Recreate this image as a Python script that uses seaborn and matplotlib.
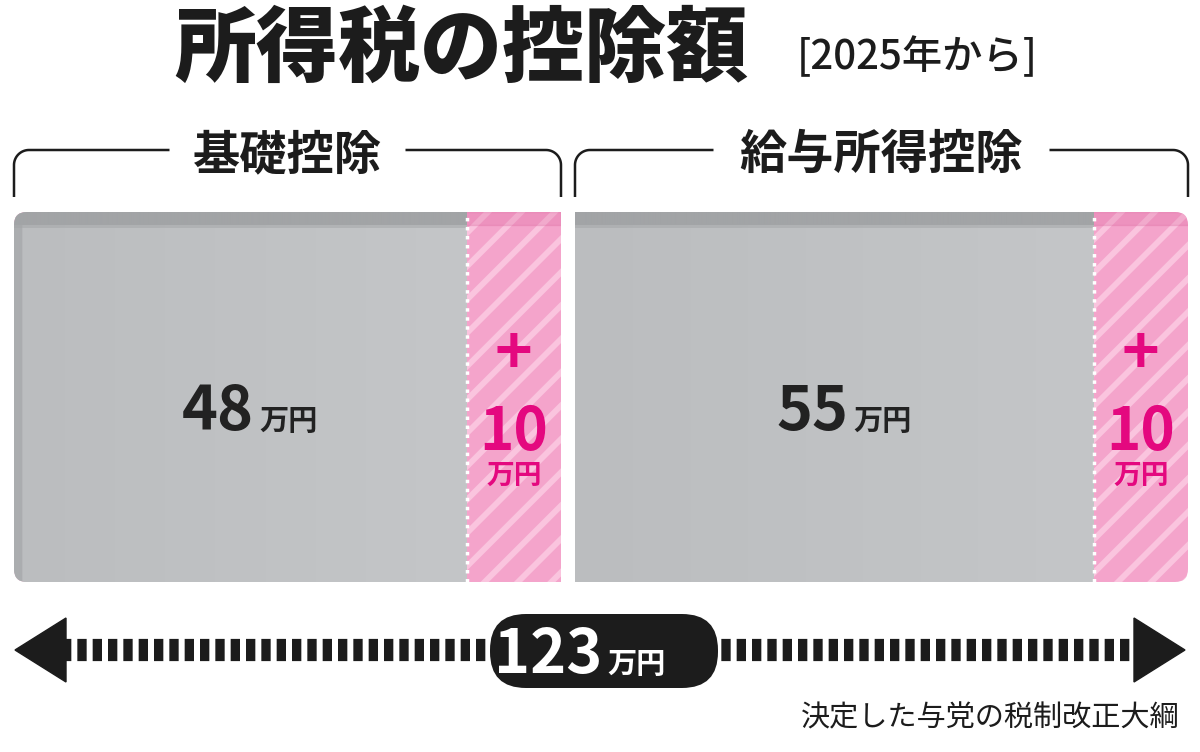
import numpy as np
import pandas as pd
import matplotlib
matplotlib.use("Agg")
import matplotlib.pyplot as plt
from matplotlib.patches import FancyBboxPatch, Polygon
import seaborn as sns

# ---- data ----
groups = ["基礎控除", "給与所得控除"]
current = [48, 55]
increase = [10, 10]
unit_label = "万円"
title = "所得税の控除額"
subtitle = "[2025年から]"
source = "決定した与党の税制改正大綱"

total = sum(current) + sum(increase)

sns.set_theme(style="white")
plt.rcParams["font.family"] = ["Noto Sans CJK JP", "DejaVu Sans"]
plt.rcParams["hatch.linewidth"] = 4.2

W, H = 1200, 752
fig = plt.figure(figsize=(W / 100, H / 100), dpi=100)
fig.patch.set_facecolor("white")

ov = fig.add_axes([0, 0, 1, 1])
ov.set_xlim(0, W)
ov.set_ylim(H, 0)
ov.axis("off")
ov.patch.set_visible(False)

GRAY_TOP = np.array([0xa2, 0xa4, 0xa6]) / 255
GRAY_RIM = np.array([0xab, 0xad, 0xaf]) / 255
GRAY_L = np.array([0xbb, 0xbd, 0xbf]) / 255
GRAY_R = np.array([0xc4, 0xc6, 0xc8]) / 255
PINK = "#f4a4cb"
PINK_LINE = "#fac4de"
MAGENTA = "#e4087f"
INK = "#1c1c1c"

x0, x1 = 14, 1188
gap_px = 14
u = (x1 - x0 - gap_px) / total
bar_top, bar_bot = 212, 582
mid_y = (bar_top + bar_bot) / 2
bh = bar_bot - bar_top

clip_rect = FancyBboxPatch((x0, bar_top), x1 - x0, bh,
                           boxstyle="round,pad=0,rounding_size=13",
                           transform=ov.transData)

left = x0
for gi, (g, cur, inc) in enumerate(zip(groups, current, increase)):
    tot = cur + inc
    wpx = tot * u
    ax = fig.add_axes([left / W, (H - bar_bot) / H, wpx / W, bh / H])
    df_tot = pd.DataFrame({"group": [g], "value": [tot]})
    df_cur = pd.DataFrame({"group": [g], "value": [cur]})
    sns.barplot(data=df_tot, x="value", y="group", orient="h", width=1,
                color=PINK, saturation=1, hatch="/", edgecolor=PINK_LINE,
                linewidth=0, ax=ax, zorder=1)
    sns.barplot(data=df_cur, x="value", y="group", orient="h", width=1,
                color=tuple(GRAY_R), saturation=1, linewidth=0, ax=ax, zorder=2)
    ax.set_xlim(0, tot)
    ax.set_ylim(0.5, -0.5)
    ax.axis("off")
    for p in ax.patches:
        p.set_clip_path(clip_rect)

    # gradient on gray bar
    nh, nw = 370, 600
    t = np.linspace(0, 1, nw)
    img = np.zeros((nh, nw, 3))
    for k in range(3):
        img[:, :, k] = GRAY_L[k] + (GRAY_R[k] - GRAY_L[k]) * t[None, :]
    top_rows = 13
    rim = int(nw * 9 / (cur * u))
    if gi == 0:
        img[:, :rim, :] = GRAY_RIM
    img[:top_rows, :, :] = GRAY_TOP
    img[top_rows:top_rows + 3, :, :] = (GRAY_TOP + img[top_rows + 4, :, :]) / 2
    im = ax.imshow(img, extent=(0, cur, 0.5, -0.5), aspect="auto", zorder=3,
                   interpolation="bilinear")
    im.set_clip_path(clip_rect)

    # darker top band on pink
    band = ax.axhspan(-0.5, -0.5 + 13 / bh, color="#d9609a", alpha=0.25, zorder=1.5)
    band.set_clip_path(clip_rect)

    # dotted separator
    ax.axvline(cur, color="white", lw=2.5, ls=(0, (1, 1.6)), zorder=4)

    # value labels
    yb = (430 - mid_y) / bh
    ax.annotate(str(cur), xy=(cur / 2, yb), xytext=(10, 0), textcoords="offset points",
                ha="right", va="baseline", fontsize=44, fontweight="bold", color="#222222", zorder=5)
    ax.annotate(unit_label, xy=(cur / 2, yb), xytext=(14, 0), textcoords="offset points",
                ha="left", va="baseline", fontsize=21, fontweight="bold", color="#222222", zorder=5)
    px = cur + inc / 2
    ax.text(px, (355 - mid_y) / bh, "+", ha="center", va="center", fontsize=46,
            fontweight="bold", color=MAGENTA, zorder=5)
    ax.text(px, (450 - mid_y) / bh, str(inc), ha="center", va="baseline", fontsize=42,
            fontweight="bold", color=MAGENTA, zorder=5)
    ax.text(px, (484 - mid_y) / bh, unit_label, ha="center", va="baseline", fontsize=20,
            fontweight="bold", color=MAGENTA, zorder=5)

    # bracket and group label
    cx = left + wpx / 2
    ov.text(cx, 155, g, ha="center", va="center", fontsize=34, fontweight="bold", color=INK)
    half = len(g) * 25 + 18
    r = 15
    yl, yb2 = 150, 197
    a = np.linspace(np.pi, 1.5 * np.pi, 20)
    lx = np.concatenate([[left], left + r + r * np.cos(a), [cx - half]])
    ly = np.concatenate([[yb2], yl + r + r * np.sin(a), [yl]])
    ov.plot(lx, ly, color=INK, lw=1.8, solid_capstyle="butt")
    right = left + wpx
    a2 = np.linspace(1.5 * np.pi, 2 * np.pi, 20)
    rx = np.concatenate([[cx + half], right - r + r * np.cos(a2), [right]])
    ry = np.concatenate([[yl], yl + r + r * np.sin(a2), [yb2]])
    ov.plot(rx, ry, color=INK, lw=1.8, solid_capstyle="butt")

    left = right + gap_px

# ---- total arrow ----
ay = 650
ov.plot([62, 1138], [ay, ay], color=INK, lw=16, linestyle=(0, (0.42, 0.27)),
        dash_capstyle="butt", solid_capstyle="butt", zorder=2)
ov.add_patch(Polygon([[15, ay], [66, ay - 32], [66, ay + 32]], closed=True, color=INK, zorder=3))
ov.add_patch(Polygon([[1185, ay], [1134, ay - 32], [1134, ay + 32]], closed=True, color=INK, zorder=3))
ov.add_patch(FancyBboxPatch((490, 614), 228, 74, boxstyle="round,pad=0,rounding_size=36",
                            facecolor=INK, edgecolor="none", zorder=4))
ov.text(602, 673, str(total), ha="right", va="baseline", fontsize=44, fontweight="bold",
        color="white", zorder=5)
ov.text(607, 673, unit_label, ha="left", va="baseline", fontsize=21, fontweight="bold",
        color="white", zorder=5)

# ---- titles ----
ov.text(461, 50, title, ha="center", va="center", fontsize=59, fontweight="heavy", color=INK)
ov.text(917, 57, subtitle, ha="center", va="center", fontsize=29, fontweight="medium", color=INK)
ov.text(1180, 718, source, ha="right", va="center", fontsize=21, color=INK)

fig.savefig("out.png", dpi=100, facecolor="white")
